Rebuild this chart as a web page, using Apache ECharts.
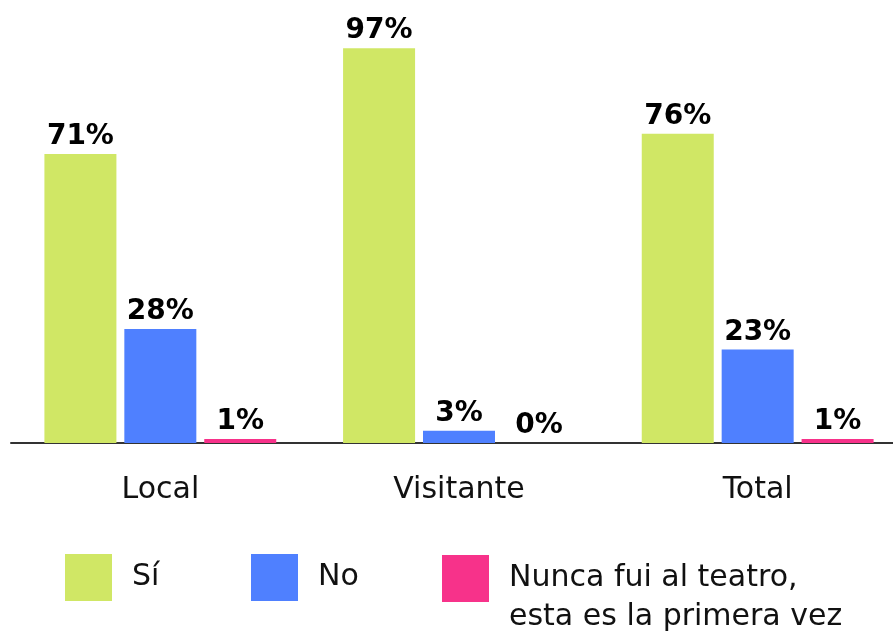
<!DOCTYPE html>
<html>
<head>
<meta charset="utf-8">
<script src="https://cdn.jsdelivr.net/npm/echarts@6/dist/echarts.min.js"></script>
<style>
  html, body { margin: 0; padding: 0; background: #fff; }
  #chart { width: 893px; height: 632px; }
</style>
</head>
<body>
<div id="chart"></div>
<script>
// datos
const categories = ['Local', 'Visitante', 'Total'];
const seriesNames = ['Sí', 'No', 'Nunca fui al teatro,\nesta es la primera vez'];
const si = [71, 97, 76];
const no = [28, 3, 23];
const nunca = [1, 0, 1];

const colors = ['#D0E765', '#4F80FF', '#F7328A'];
const font = 'DejaVu Sans';

const chart = echarts.init(document.getElementById('chart'));

const barLabel = {
  show: true,
  position: 'top',
  distance: 3,
  formatter: '{c}%',
  color: '#000',
  fontFamily: font,
  fontWeight: 'bold',
  fontSize: 28,
};

const makeLegend = (name, left, top, twoLines) => ({
  data: [name],
  left: left,
  top: top,
  padding: 0,
  orient: 'horizontal',
  icon: 'rect',
  itemWidth: 47,
  itemHeight: 47,
  selectedMode: false,
  // el texto se centra en el icono; con una línea vacía delante la 1ª línea queda a su altura
  formatter: n => (twoLines ? '\n' + n : n),
  textStyle: {
    fontFamily: font,
    fontSize: 30,
    color: '#111',
    lineHeight: 39,
    padding: [0, 0, 0, 15],
  },
});

const option = {
  animation: false,
  color: colors,
  grid: {
    left: 11,
    top: 36,
    width: 896,
    height: 407,
    outerBoundsMode: 'none',
    containLabel: false,
  },
  legend: [
    makeLegend(seriesNames[0], 65, 554, false),
    makeLegend(seriesNames[1], 251, 554, false),
    makeLegend(seriesNames[2], 442, 520, true),
  ],
  xAxis: {
    type: 'category',
    data: categories,
    axisLine: { lineStyle: { color: '#333', width: 2 } },
    axisTick: { show: false },
    axisLabel: {
      margin: 32,
      color: '#111',
      fontFamily: font,
      fontSize: 30,
    },
  },
  yAxis: {
    type: 'value',
    min: 0,
    max: 100,
    show: false,
    splitLine: { show: false },
  },
  series: [
    { name: seriesNames[0], type: 'bar', data: si, barWidth: 72, barGap: '11%', label: barLabel },
    { name: seriesNames[1], type: 'bar', data: no, barWidth: 72, barGap: '11%', label: barLabel },
    { name: seriesNames[2], type: 'bar', data: nunca, barWidth: 72, barGap: '11%', label: barLabel },
  ],
};

chart.setOption(option);
</script>
</body>
</html>
